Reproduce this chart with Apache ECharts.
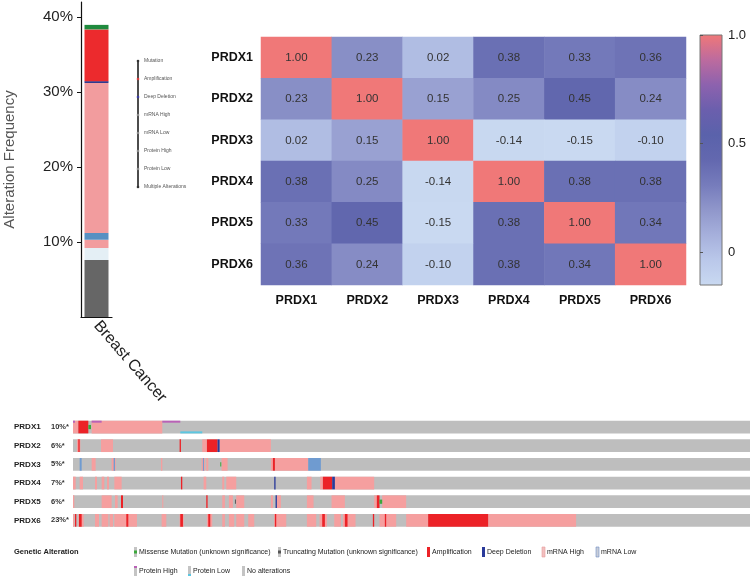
<!DOCTYPE html>
<html lang="en">
<head>
<meta charset="UTF-8">
<title>PRDX alterations</title>
<script src="https://cdn.jsdelivr.net/npm/echarts@6/dist/echarts.min.js"></script>
<style>html,body{margin:0;padding:0;background:#fff;}</style>
</head>
<body>
<div id="main" style="width:753px;height:578px;"></div>
<script type="text/javascript">
// ---- alteration frequency (stacked bar, bottom to top) ----
var cancerTypes = ['Breast Cancer'];
var alterTypes = ['Multiple Alterations', 'Protein Low', 'Protein High', 'mRNA Low', 'mRNA High', 'Deep Deletion', 'Amplification', 'Mutation'];
var alterFreq = [7.6, 1.6, 1.1, 0.9, 20.0, 0.25, 6.9, 0.6];
var alterColors = ['#666666', '#e4eff5', '#f29c9e', '#5790c2', '#f29c9e', '#2e3a8f', '#ec2a2d', '#1f8a3e'];
var freqTicks = [10, 20, 30, 40];
var barKeyNames = ['Mutation', 'Amplification', 'Deep Deletion', 'mRNA High', 'mRNA Low', 'Protein High', 'Protein Low', 'Multiple Alterations'];
var barKeyDots = ['#333333', '#d33a3a', '#3a3aa0', '#888888', '#888888', '#888888', '#888888', '#333333'];

// ---- correlation heatmap ----
var genes = ['PRDX1', 'PRDX2', 'PRDX3', 'PRDX4', 'PRDX5', 'PRDX6'];
var corr = [
    [1.00, 0.23, 0.02, 0.38, 0.33, 0.36],
    [0.23, 1.00, 0.15, 0.25, 0.45, 0.24],
    [0.02, 0.15, 1.00, -0.14, -0.15, -0.10],
    [0.38, 0.25, -0.14, 1.00, 0.38, 0.38],
    [0.33, 0.45, -0.15, 0.38, 1.00, 0.34],
    [0.36, 0.24, -0.10, 0.38, 0.34, 1.00]
];
var scaleTicks = [0, 0.5, 1];
var heatColors = ['#c9d9f1', '#bac8ea', '#a6b0dc', '#9097cb', '#767cbc', '#6368af', '#5a62ab', '#6b5fad', '#8d62ae', '#bd6b9e', '#f07878'];

// ---- oncoprint (sample index ranges) ----
var genePct = ['10%*', '6%*', '5%*', '7%*', '6%*', '23%*'];
var nSamples = 1016;
var prdx1Segs = [[0,8,'mrnaHigh'],[8,23,'amp'],[23,27,'mut'],[28,134,'mrnaHigh'],
    [0,3,'protHigh'],[28,43,'protHigh'],[134,161,'protHigh'],[161,194,'protLow']];
var prdx2Segs = [[6,11,'mrnaHigh'],[8,10,'amp'],[42,60,'mrnaHigh'],[160,162,'amp'],[194,201,'mrnaHigh'],
    [201,217,'amp'],[217,220,'del'],[220,297,'mrnaHigh']];
var prdx3Segs = [[10,13,'mrnaLow'],[28,34,'mrnaHigh'],[58,64,'mrnaHigh'],[61,63,'mrnaLow'],[132,134,'mrnaHigh'],
    [193,198,'mrnaHigh'],[195,196,'mrnaLow'],[200,203,'mrnaHigh'],[221,222,'mut'],[223,232,'mrnaHigh'],
    [297,300,'mrnaHigh'],[300,303,'amp'],[303,353,'mrnaHigh'],[353,372,'mrnaLow']];
var prdx4Segs = [[0,4,'mrnaHigh'],[10,15,'mrnaHigh'],[33,36,'mrnaHigh'],[43,47,'mrnaHigh'],[51,54,'mrnaHigh'],
    [62,73,'mrnaHigh'],[162,164,'amp'],[196,200,'mrnaHigh'],[224,227,'mrnaHigh'],[230,245,'mrnaHigh'],
    [302,304,'del'],[351,358,'mrnaHigh'],[371,375,'mrnaHigh'],[375,389,'amp'],[389,393,'del'],[393,452,'mrnaHigh']];
var prdx5Segs = [[0,2,'mrnaHigh'],[43,58,'mrnaHigh'],[63,67,'mrnaHigh'],[72,75,'amp'],[134,135,'mrnaHigh'],
    [200,202,'amp'],[224,228,'mrnaHigh'],[234,240,'mrnaHigh'],[243,244,'trunc'],[245,257,'mrnaHigh'],
    [297,300,'mrnaHigh'],[304,306,'del'],[306,312,'mrnaHigh'],[351,361,'mrnaHigh'],[388,408,'mrnaHigh'],
    [452,456,'mrnaHigh'],[456,460,'amp'],[460,464,'mut'],[464,500,'mrnaHigh']];
var prdx6Segs = [[0,2,'mrnaHigh'],[3,5,'amp'],[8,16,'mrnaHigh'],[9,13,'amp'],[33,39,'mrnaHigh'],[43,53,'mrnaHigh'],
    [55,60,'mrnaHigh'],[62,96,'mrnaHigh'],[80,83,'amp'],[133,140,'mrnaHigh'],[160,166,'mrnaHigh'],[161,165,'amp'],
    [201,209,'mrnaHigh'],[203,206,'amp'],[224,228,'mrnaHigh'],[234,242,'mrnaHigh'],[245,257,'mrnaHigh'],
    [263,272,'mrnaHigh'],[302,320,'mrnaHigh'],[303,305,'amp'],[351,365,'mrnaHigh'],[370,381,'mrnaHigh'],
    [374,378,'amp'],[392,402,'mrnaHigh'],[405,424,'mrnaHigh'],[408,412,'amp'],[450,452,'amp'],
    [460,485,'mrnaHigh'],[468,470,'amp'],[500,533,'mrnaHigh'],[533,623,'amp'],[623,755,'mrnaHigh']];
var geneSegs = [prdx1Segs, prdx2Segs, prdx3Segs, prdx4Segs, prdx5Segs, prdx6Segs];

var segKinds = ['none', 'mrnaHigh', 'mrnaLow', 'amp', 'del', 'mut', 'trunc', 'protHigh', 'protLow'];
var segNames = ['No alterations', 'mRNA High', 'mRNA Low', 'Amplification', 'Deep Deletion',
    'Missense Mutation (unknown significance)', 'Truncating Mutation (unknown significance)', 'Protein High', 'Protein Low'];
var segColors = {none: '#bebebe', mrnaHigh: '#f59f9f', mrnaLow: '#6f9bd0', amp: '#ec2227', del: '#2a3a9a',
    mut: '#3ba83b', trunc: '#555555', protHigh: '#b962b6', protLow: '#5cc6e0'};

var FONT = 'Liberation Sans, Arial, sans-serif';
var myChart = echarts.init(document.getElementById('main'));

function segRenderer(kind) {
    return function (params, api) {
        var a = api.coord([api.value(0), api.value(2)]);
        var b = api.coord([api.value(1), api.value(2)]);
        var h = api.size([0, 1])[1] * 0.68;
        var y = a[1] - h / 2, hh = h;
        if (kind === 'mut' || kind === 'trunc') { hh = h / 3; y = a[1] - hh / 2; }
        else if (kind === 'protHigh') { hh = 2; y = a[1] - h / 2; }
        else if (kind === 'protLow') { hh = 2; y = a[1] + h / 2 - 2; }
        return {
            type: 'rect',
            shape: {x: a[0], y: y, width: Math.max(b[0] - a[0], 1), height: hh},
            style: {fill: api.visual('color')}
        };
    };
}

var series = [];
alterTypes.forEach(function (name, i) {
    series.push({
        name: name, type: 'bar', stack: 'freq', barWidth: 24,
        xAxisIndex: 0, yAxisIndex: 0,
        itemStyle: {color: alterColors[i]},
        data: [alterFreq[i]]
    });
});

var heatData = [];
corr.forEach(function (row, i) {
    row.forEach(function (v, j) { heatData.push([j, i, v]); });
});
var heatIndex = series.length;
series.push({
    type: 'heatmap', xAxisIndex: 1, yAxisIndex: 1, data: heatData,
    label: {show: true, color: '#333', fontSize: 11.5, fontFamily: FONT,
        formatter: function (p) { return p.value[2].toFixed(2); }},
    emphasis: {disabled: true}
});

segKinds.forEach(function (kind, k) {
    var data = [];
    if (kind === 'none') {
        genes.forEach(function (g, i) { data.push([0, nSamples, i]); });
    } else {
        geneSegs.forEach(function (segs, i) {
            segs.forEach(function (s) { if (s[2] === kind) data.push([s[0], s[1], i]); });
        });
    }
    series.push({
        name: segNames[k], type: 'custom', xAxisIndex: 2, yAxisIndex: 3,
        renderItem: segRenderer(kind),
        itemStyle: {color: segColors[kind]},
        encode: {x: [0, 1], y: 2},
        data: data
    });
});

// colour bar gradient from the same stops as the heatmap
var barStops = heatColors.map(function (c, i) {
    return {offset: 1 - i / (heatColors.length - 1), color: c};
}).reverse();

var graphic = [];
// key beside the stacked bar
graphic.push({type: 'line', shape: {x1: 138, y1: 61, x2: 138, y2: 187}, style: {stroke: '#111', lineWidth: 1.5}});
barKeyNames.forEach(function (n, i) {
    var y = 61 + i * 18;
    graphic.push({type: 'circle', shape: {cx: 138, cy: y, r: 1.3}, style: {fill: barKeyDots[i]}, z: 10});
    graphic.push({type: 'text', x: 144, y: y, style: {text: n, fontSize: 5, fill: '#555', fontFamily: FONT, verticalAlign: 'middle'}});
});

// oncoprint key
graphic.push({type: 'text', x: 14, y: 552, style: {text: 'Genetic Alteration', fontSize: 7.5, fontWeight: 'bold', fill: '#222', fontFamily: FONT, verticalAlign: 'middle'}});
var keyItems = [
    {kind: 'mut', x: 134, y: 552}, {kind: 'trunc', x: 278, y: 552}, {kind: 'amp', x: 427, y: 552},
    {kind: 'del', x: 482, y: 552}, {kind: 'mrnaHigh', x: 542, y: 552}, {kind: 'mrnaLow', x: 596, y: 552},
    {kind: 'protHigh', x: 134, y: 571}, {kind: 'protLow', x: 188, y: 571}, {kind: 'none', x: 242, y: 571}
];
keyItems.forEach(function (it) {
    var k = it.kind, x = it.x, y = it.y - 5;
    var kids = [{type: 'rect', shape: {x: x, y: y, width: 3, height: 10}, style: {fill: '#c4c4c4'}}];
    if (k === 'amp' || k === 'del') kids.push({type: 'rect', shape: {x: x, y: y, width: 3, height: 10}, style: {fill: segColors[k]}});
    if (k === 'mrnaHigh') kids.push({type: 'rect', shape: {x: x, y: y, width: 3, height: 10}, style: {fill: '#f2c0c0', stroke: '#e69a9a', lineWidth: 0.6}});
    if (k === 'mrnaLow') kids.push({type: 'rect', shape: {x: x, y: y, width: 3, height: 10}, style: {fill: '#c8cdd8', stroke: '#6f8fc8', lineWidth: 0.6}});
    if (k === 'mut' || k === 'trunc') kids.push({type: 'rect', shape: {x: x, y: y + 3.5, width: 3, height: 3}, style: {fill: segColors[k]}});
    if (k === 'protHigh') kids.push({type: 'rect', shape: {x: x, y: y, width: 3, height: 2}, style: {fill: segColors[k]}});
    if (k === 'protLow') kids.push({type: 'rect', shape: {x: x, y: y + 8, width: 3, height: 2}, style: {fill: segColors[k]}});
    kids.push({type: 'text', x: x + 5, y: it.y, style: {text: segNames[segKinds.indexOf(k)], fontSize: 7, fill: '#222', fontFamily: FONT, verticalAlign: 'middle'}});
    graphic.push({type: 'group', children: kids});
});

var option = {
    animation: false,
    textStyle: {fontFamily: FONT},
    grid: [
        {left: 81, top: 2, width: 31, height: 315},
        {left: 261, top: 37, width: 425, height: 248},
        {left: 700, top: 35, width: 22, height: 250, show: true, borderColor: '#777', borderWidth: 1,
            backgroundColor: {type: 'linear', x: 0, y: 0, x2: 0, y2: 1, colorStops: barStops}},
        {left: 73, top: 417.7, width: 677, height: 112}
    ],
    xAxis: [
        {gridIndex: 0, type: 'category', data: cancerTypes,
            axisLine: {lineStyle: {color: '#111', width: 1.2}},
            axisTick: {alignWithLabel: true, length: 4, lineStyle: {color: '#111'}},
            axisLabel: {rotate: -49, fontSize: 16, color: '#222', margin: 6}},
        {gridIndex: 1, type: 'category', data: genes,
            axisLine: {show: false}, axisTick: {show: false},
            axisLabel: {fontSize: 12.5, fontWeight: 'bold', color: '#111', margin: 9}},
        {gridIndex: 3, type: 'value', min: 0, max: nSamples, show: false},
        {gridIndex: 2, type: 'value', show: false}
    ],
    yAxis: [
        {gridIndex: 0, type: 'value', min: 0, max: 42,
            name: 'Alteration Frequency', nameLocation: 'middle', nameGap: 64,
            nameTextStyle: {fontSize: 15, color: '#555'},
            axisLine: {show: true, lineStyle: {color: '#111', width: 1.2}},
            axisTick: {show: true, length: 4, customValues: freqTicks, lineStyle: {color: '#111'}},
            axisLabel: {customValues: freqTicks, formatter: '{value}%', fontSize: 15, color: '#222', margin: 8},
            splitLine: {show: false}},
        {gridIndex: 1, type: 'category', data: genes, inverse: true,
            axisLine: {show: false}, axisTick: {show: false},
            axisLabel: {fontSize: 12.5, fontWeight: 'bold', color: '#111', margin: 8}},
        {gridIndex: 2, type: 'value', min: -0.15, max: 1, position: 'right',
            axisLine: {show: false}, splitLine: {show: false},
            axisTick: {show: true, customValues: scaleTicks, length: 3, lineStyle: {color: '#555'}},
            axisLabel: {customValues: scaleTicks, fontSize: 13, color: '#222', margin: 6,
                formatter: function (v) { return v === 0 ? '0' : v.toFixed(1); }}},
        {gridIndex: 3, type: 'category', data: genes, inverse: true,
            axisLine: {show: false}, axisTick: {show: false},
            axisLabel: {align: 'left', margin: 59,
                formatter: function (v, i) { return '{g|' + v + '}{p|' + genePct[i] + '}'; },
                rich: {g: {width: 37, fontSize: 8, fontWeight: 'bold', color: '#222'},
                       p: {fontSize: 7.5, fontWeight: 'bold', color: '#333'}}}}
    ],
    visualMap: {type: 'continuous', show: false, min: -0.15, max: 1, dimension: 2,
        seriesIndex: heatIndex, inRange: {color: heatColors}},
    graphic: graphic,
    series: series
};
myChart.setOption(option);
</script>
</body>
</html>
